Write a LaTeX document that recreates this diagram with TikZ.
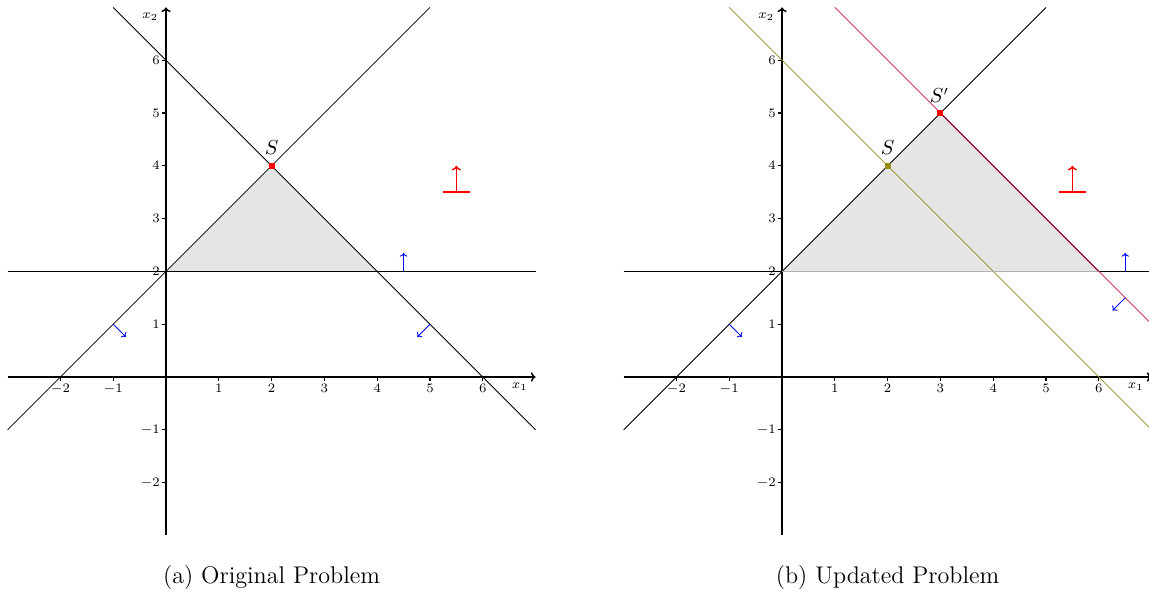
\documentclass[tikz,border=0pt]{standalone}
\usepackage{fontspec}
\usetikzlibrary{arrows.meta}
\definecolor{olivel}{RGB}{150,140,20}
\definecolor{magl}{RGB}{214,51,108}
\definecolor{magd}{RGB}{140,10,50}
\definecolor{regfill}{RGB}{229,229,229}
\tikzset{
  axisline/.style={line width=0.8pt,-{To[length=2.5pt,width=5pt]}},
  cline/.style={line width=0.45pt},
  feasarrow/.style={blue,line width=0.5pt,-{To[length=2pt,width=4pt]}},
  objarrow/.style={red,line width=0.75pt,-{To[length=2.5pt,width=5pt]}},
  objbar/.style={red,line width=0.75pt},
  ticklab/.style={font=\fontsize{7.2}{8}\selectfont,inner sep=0pt},
  axlab/.style={font=\fontsize{7.2}{8}\selectfont,inner sep=0pt},
  ptlab/.style={font=\fontsize{10.5}{12}\selectfont,inner sep=0pt},
  pt/.style={rectangle,minimum size=3.2pt,inner sep=0pt},
  captxt/.style={font=\fontsize{13}{15}\selectfont,anchor=base,inner sep=0pt},
}
\newcommand{\myaxes}[1]{%
  \coordinate (#1xa) at (-3,0); \coordinate (#1xb) at (7,0);
  \coordinate (#1ya) at (0,-3); \coordinate (#1yb) at (0,7);
  \draw[axisline] (#1xa) -- (#1xb);
  \draw[axisline] (#1ya) -- (#1yb);
  \foreach \x [count=\i] in {-2,-1,1,2,3,4,5,6}{
    \draw[line width=0.6pt] (\x,0) -- (\x,-0.07);
    \node[ticklab,anchor=north] (#1xt\i) at (\x,-0.12) {$\x$};
  }
  \foreach \y [count=\i] in {-2,-1,1,2,3,4,5,6}{
    \draw[line width=0.6pt] (0,\y) -- (-0.07,\y);
    \node[ticklab,anchor=east] (#1yt\i) at (-0.11,\y) {$\y$};
  }
  \node[axlab] (#1xl) at (6.7,-0.19) {$x_1$};
  \node[axlab] (#1yl) at (-0.3,6.83) {$x_2$};
}
\begin{document}
\begin{tikzpicture}
\useasboundingbox (-3.144,-4.072) rectangle (18.617,7.140);
\clip (-3.144,-4.072) rectangle (18.617,7.140);
% ---------------- (a) Original Problem ----------------
\begin{scope}
  \coordinate (aP0) at (0,2); \coordinate (aP1) at (2,4); \coordinate (aP2) at (4,2);
  \fill[regfill] (aP0) -- (aP1) -- (aP2) -- cycle;
  \myaxes{a}
  \coordinate (aL1s) at (-3,-1); \coordinate (aL1e) at (5,7);
  \coordinate (aL2s) at (-1,7);  \coordinate (aL2e) at (7,-1);
  \coordinate (aL3s) at (-3,2);  \coordinate (aL3e) at (7,2);
  \draw[cline] (aL1s) -- (aL1e);
  \draw[cline] (aL2s) -- (aL2e);
  \draw[cline] (aL3s) -- (aL3e);
  % feasibility arrows
  \coordinate (aF1s) at (-1,1);  \coordinate (aF1e) at (-0.76,0.76);
  \coordinate (aF2s) at (5,1);   \coordinate (aF2e) at (4.76,0.76);
  \coordinate (aF3s) at (4.5,2); \coordinate (aF3e) at (4.5,2.35);
  \draw[feasarrow] (aF1s) -- (aF1e);
  \draw[feasarrow] (aF2s) -- (aF2e);
  \draw[feasarrow] (aF3s) -- (aF3e);
  % objective
  \coordinate (aOl) at (5.25,3.5); \coordinate (aOr) at (5.75,3.5);
  \coordinate (aOc) at (5.5,3.5);  \coordinate (aOt) at (5.5,4.0);
  \draw[objbar] (aOl) -- (aOr);
  \draw[objarrow] (aOc) -- (aOt);
  % point S
  \node[pt,fill=red] (aS) at (aP1) {};
  \node[ptlab] (aSl) at (2,4.34) {$S$};
  \node[captxt] (capa) at (2,-3.91) {(a) Original Problem};
\end{scope}
% ---------------- (b) Updated Problem ----------------
\begin{scope}[xshift=11.667cm]
  \coordinate (bP0) at (0,2); \coordinate (bP1) at (3,5); \coordinate (bP2) at (6,2);
  \fill[regfill] (bP0) -- (bP1) -- (bP2) -- cycle;
  \myaxes{b}
  \coordinate (bL1s) at (-3,-1); \coordinate (bL1e) at (5,7);
  \coordinate (bL2s) at (-1,7);  \coordinate (bL2e) at (7,-1);
  \coordinate (bL3s) at (-3,2);  \coordinate (bL3e) at (7,2);
  \coordinate (bL4s) at (1,7);   \coordinate (bL4e) at (7,1);
  \draw[cline] (bL1s) -- (bL1e);
  \draw[cline] (bL3s) -- (bL3e);
  \draw[cline,olivel] (bL2s) -- (bL2e);
  \draw[cline,magl] (bL4s) -- (bL4e);
  \draw[line width=0.8pt,black!30] (bP0) -- (bP2);
  \draw[line width=0.6pt,magd] (bP1) -- (bP2);
  % feasibility arrows
  \coordinate (bF1s) at (-1,1);   \coordinate (bF1e) at (-0.76,0.76);
  \coordinate (bF2s) at (6.5,1.5); \coordinate (bF2e) at (6.26,1.26);
  \coordinate (bF3s) at (6.5,2);  \coordinate (bF3e) at (6.5,2.35);
  \draw[feasarrow] (bF1s) -- (bF1e);
  \draw[feasarrow] (bF2s) -- (bF2e);
  \draw[feasarrow] (bF3s) -- (bF3e);
  % objective
  \coordinate (bOl) at (5.25,3.5); \coordinate (bOr) at (5.75,3.5);
  \coordinate (bOc) at (5.5,3.5);  \coordinate (bOt) at (5.5,4.0);
  \draw[objbar] (bOl) -- (bOr);
  \draw[objarrow] (bOc) -- (bOt);
  % points
  \coordinate (bSq) at (2,4);
  \node[pt,fill=olivel] (bS) at (bSq) {};
  \node[pt,fill=red] (bSp) at (bP1) {};
  \node[ptlab] (bSl) at (2,4.34) {$S$};
  \node[ptlab] (bSpl) at (2.98,5.33) {$S'$};
  \node[captxt] (capb) at (2,-3.91) {(b) Updated Problem};
\end{scope}
\end{tikzpicture}
\end{document}
